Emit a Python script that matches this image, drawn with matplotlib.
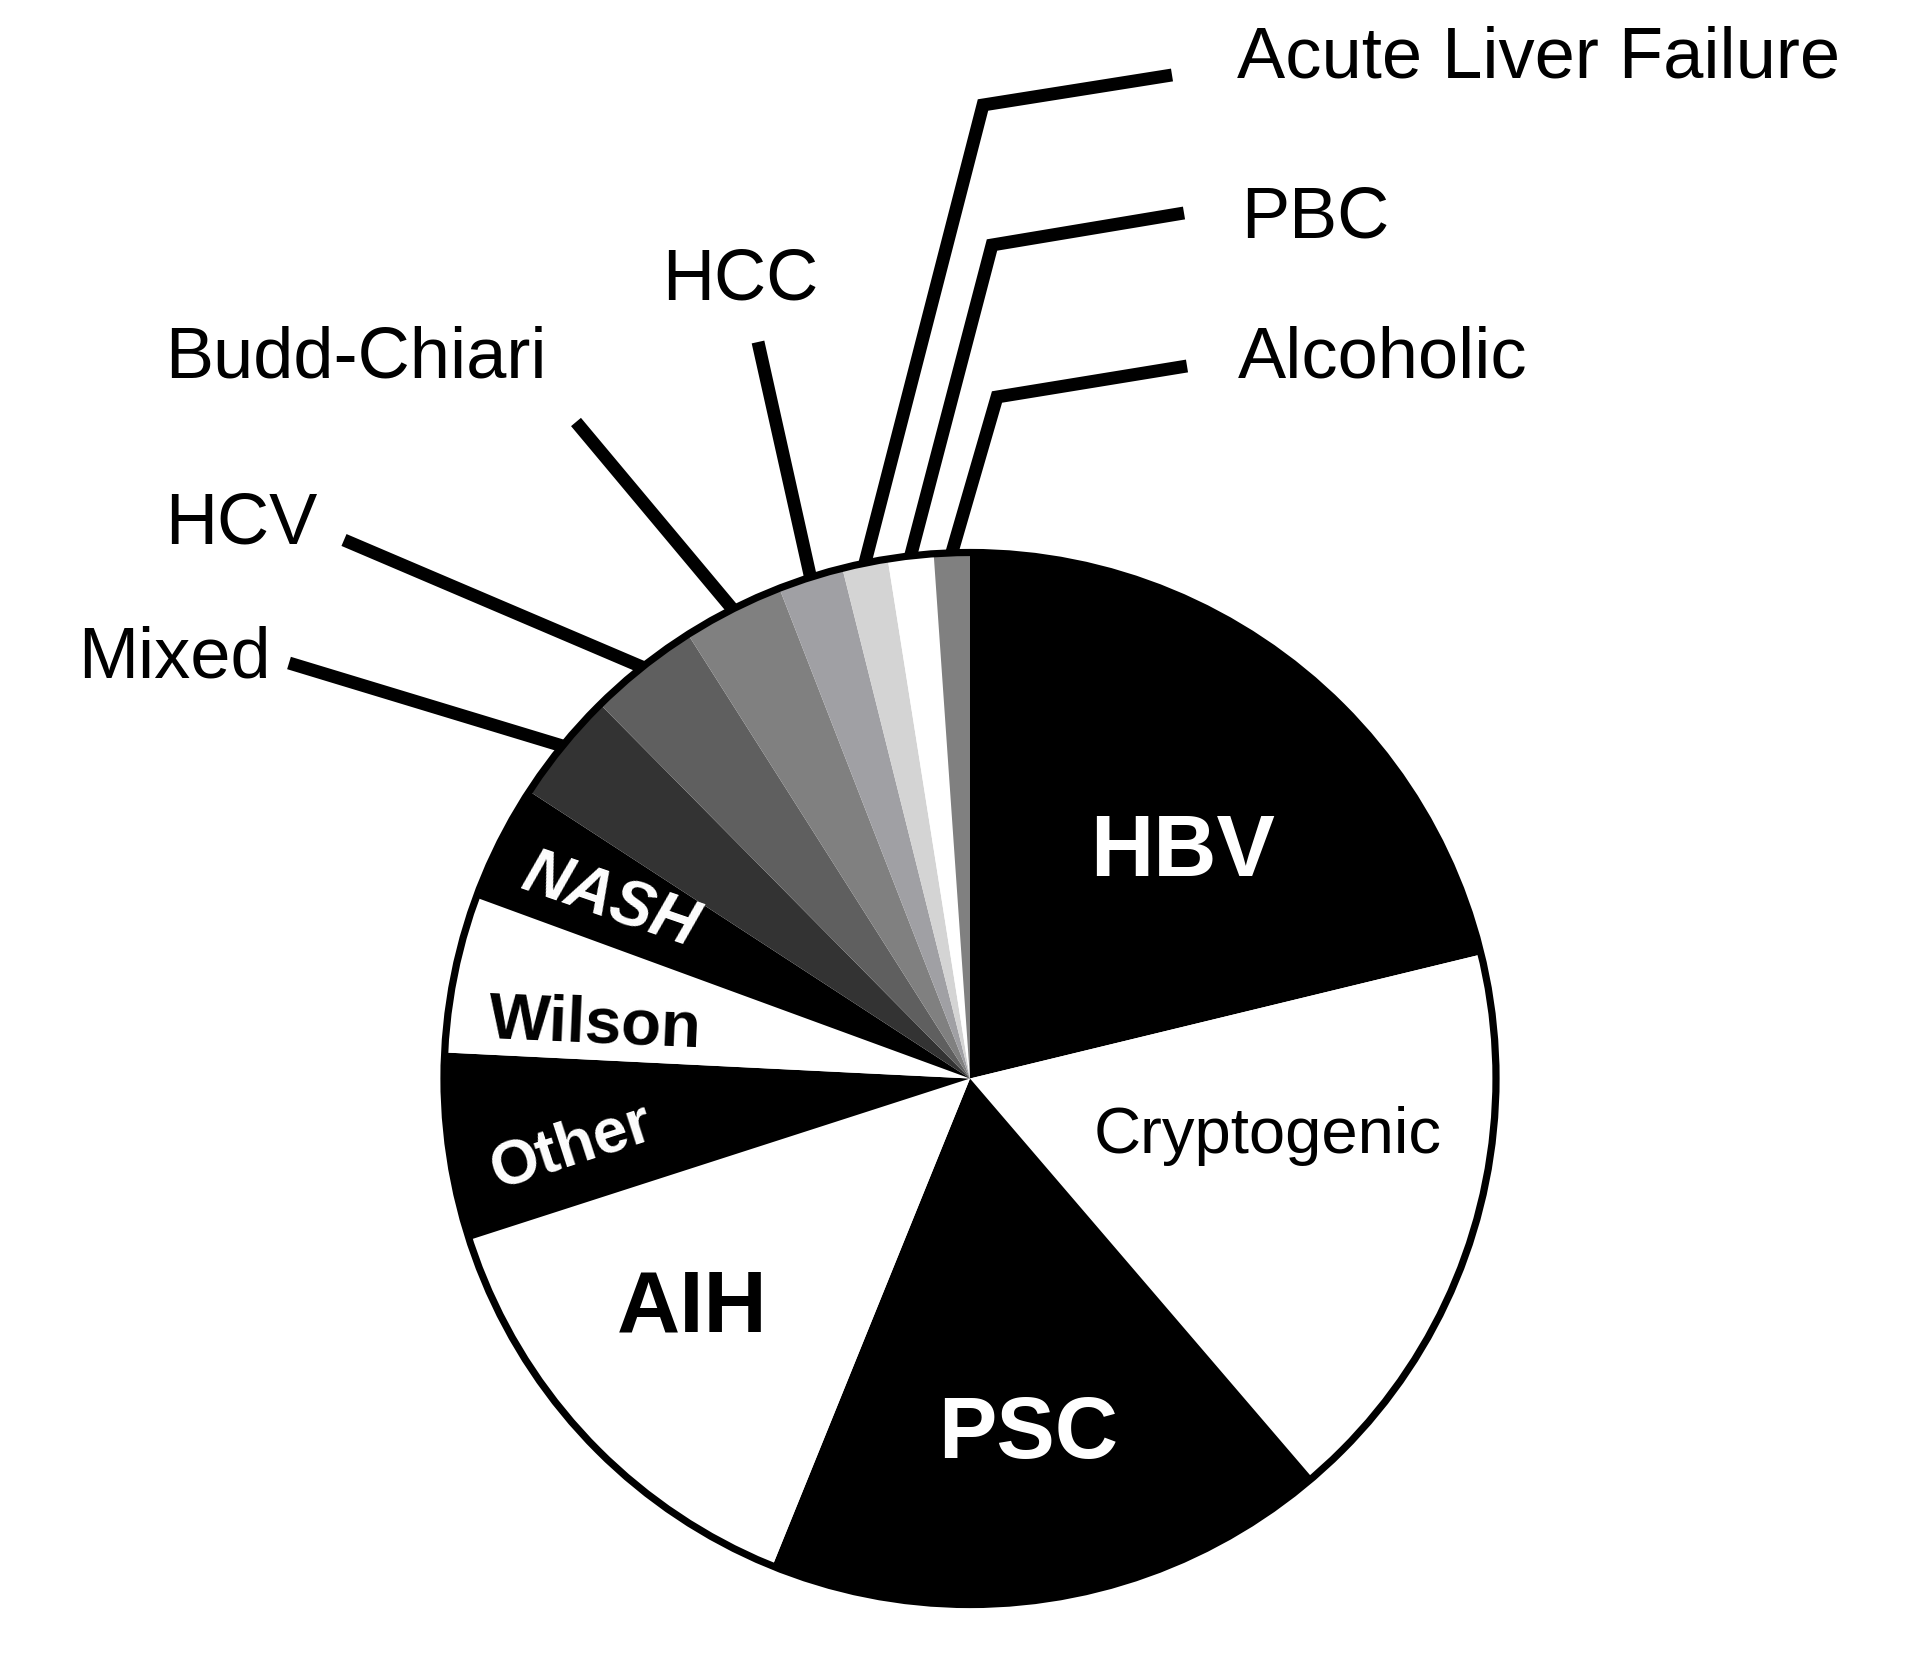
import numpy as np
import matplotlib
matplotlib.use("Agg")
import matplotlib.pyplot as plt
from matplotlib.patches import Circle

# ---- data ----
labels = ["HBV", "Cryptogenic", "PSC", "AIH", "Other", "Wilson", "NASH", "Mixed",
          "HCV", "Budd-Chiari", "HCC", "Acute Liver Failure", "PBC", "Alcoholic"]
values = [21.2, 17.5, 17.4, 13.9, 5.75, 4.8, 3.6, 3.4, 3.4, 3.1, 2.0, 1.4, 1.4, 1.1]
colors = ["#000000", "#ffffff", "#000000", "#ffffff", "#000000", "#ffffff", "#000000",
          "#333333", "#5f5f5f", "#808080", "#a0a0a4", "#d4d4d4", "#ffffff", "#808080"]

W, H = 1913, 1655
FONT = "Liberation Sans"


def Y(p):
    return H - p


fig = plt.figure(figsize=(W / 100, H / 100), dpi=100)
ax = fig.add_axes([0, 0, 1, 1])

cx, cy, R = 970, Y(1078.5), 526
wedges, _ = ax.pie(values, colors=colors, startangle=90, counterclock=False,
                   center=(cx, cy), radius=R,
                   wedgeprops=dict(linewidth=0, antialiased=True))
ax.add_patch(Circle((cx, cy), R, fill=False, lw=5.2, ec="black", zorder=3))

ax.set_xlim(0, W)
ax.set_ylim(0, H)
ax.set_aspect("equal")
ax.axis("off")

# ---- inner labels: (text, x, baseline y, size, color, weight, style, rotation)
inner = [
    ("HBV", 1183, 876, 63, "white", "bold", "normal", 0),
    ("Cryptogenic", 1268, 1153, 47, "black", "normal", "normal", 0),
    ("PSC", 1028, 1458, 63, "white", "bold", "normal", 0),
    ("AIH", 692, 1332, 63, "black", "bold", "normal", 0),
    ("Other", 577, 1163, 45, "white", "bold", "normal", 18),
    ("Wilson", 594, 1042, 47, "black", "bold", "normal", -2.5),
    ("NASH", 605, 918, 46, "white", "bold", "italic", -19),
]
for t, x, yb, s, c, wgt, sty, rot in inner:
    ax.text(x, Y(yb), t, fontsize=s, color=c, fontweight=wgt, fontstyle=sty,
            family=FONT, ha="center", va="baseline", rotation=rot,
            rotation_mode="anchor", zorder=5)

# ---- outer labels with leader lines ----
# label: (text left x, baseline y, leader path points after the wedge edge)
outer = {
    "Mixed": (78, 677, [(289, 663)]),
    "HCV": (165, 543, [(344, 540)]),
    "Budd-Chiari": (165, 377, [(576, 422)]),
    "HCC": (662, 300, [(758, 342)]),
    "Acute Liver Failure": (1237, 78, [(983, 105), (1172, 75)]),
    "PBC": (1241, 237, [(992, 245), (1184, 213)]),
    "Alcoholic": (1238, 377, [(997, 397), (1187, 366)]),
}
for w, lab in zip(wedges, labels):
    if lab not in outer:
        continue
    tx, tb, pts = outer[lab]
    th = np.deg2rad((w.theta1 + w.theta2) / 2)
    xs = [cx + R * np.cos(th)] + [p[0] for p in pts]
    ys = [cy + R * np.sin(th)] + [Y(p[1]) for p in pts]
    ax.plot(xs, ys, color="black", lw=9.3, solid_capstyle="butt",
            solid_joinstyle="miter", zorder=4)
    ax.text(tx, Y(tb), lab, fontsize=52, family=FONT, color="black",
            ha="left", va="baseline", zorder=5)

fig.savefig("out.png", dpi=100, facecolor="white")
